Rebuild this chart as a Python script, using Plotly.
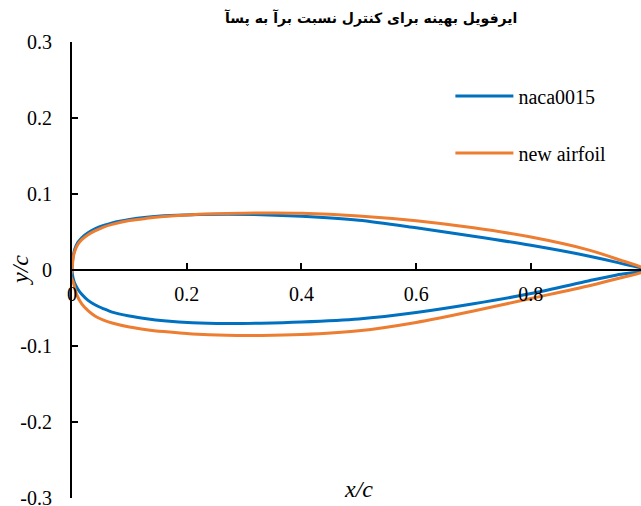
import plotly.graph_objects as go

# Chordwise stations (x/c) shared by the upper surfaces and the NACA lower surface
x_c = [0, 0.002, 0.005, 0.01, 0.017, 0.028, 0.04, 0.055, 0.07, 0.1, 0.13, 0.16,
       0.21, 0.27, 0.33, 0.4, 0.5, 0.6, 0.7, 0.8, 0.9, 0.95, 1.0]

# NACA 0015 surface ordinates (y/c)
naca_upper = [0, 0.018, 0.0275, 0.036, 0.0425, 0.049, 0.054, 0.0585, 0.062, 0.0665, 0.0695, 0.0713,
              0.0728, 0.0732, 0.0728, 0.0708, 0.0655, 0.0555, 0.0445, 0.0325, 0.0185, 0.010, 0]
naca_lower = [0, -0.011, -0.018, -0.025, -0.032, -0.040, -0.0457, -0.051, -0.0555, -0.0605, -0.064, -0.0667,
              -0.0695, -0.0705, -0.0700, -0.0685, -0.0645, -0.056, -0.0445, -0.031, -0.0145, -0.0065, 0]

# Optimised airfoil surface ordinates (y/c)
new_upper = [0, 0.016, 0.025, 0.0335, 0.040, 0.0465, 0.0515, 0.0565, 0.060, 0.065, 0.068, 0.0703,
             0.0728, 0.0742, 0.0750, 0.0747, 0.0712, 0.0648, 0.0555, 0.0433, 0.0265, 0.0145, 0]
new_lower_x = [0, -0.002, 0.003, 0.008, 0.017, 0.028, 0.04, 0.055, 0.07, 0.1, 0.13, 0.16,
               0.21, 0.27, 0.33, 0.4, 0.5, 0.6, 0.7, 0.8, 0.9, 0.95, 1.0]
new_lower = [0, -0.008, -0.018, -0.032, -0.0445, -0.0535, -0.0605, -0.066, -0.0698, -0.075, -0.0785, -0.081,
             -0.0842, -0.0860, -0.0862, -0.0850, -0.0800, -0.069, -0.054, -0.0375, -0.021, -0.0115, 0]

series_names = ["naca0015", "new airfoil"]
series_colors = ["#0070C0", "#ED7D31"]

y_ticks = [-0.3, -0.2, -0.1, 0, 0.1, 0.2, 0.3]
y_tick_text = ["-0.3", "-0.2", "-0.1", "0", "0.1", "0.2", "0.3"]
x_ticks = [0, 0.2, 0.4, 0.6, 0.8]
x_tick_text = ["0", "0.2", "0.4", "0.6", "0.8"]

title_text = "ایرفویل بهینه برای کنترل نسبت برآ به پسآ"

serif = "Liberation Serif"

# closed contours: trailing edge -> leading edge along the upper side, then back along the lower side
naca_x = x_c[::-1] + x_c[1:]
naca_y = naca_upper[::-1] + naca_lower[1:]
new_x = x_c[::-1] + new_lower_x[1:]
new_y = new_upper[::-1] + new_lower[1:]

fig = go.Figure()
fig.add_trace(go.Scatter(x=naca_x, y=naca_y, mode="lines", name=series_names[0],
                         line=dict(color=series_colors[0], width=3, shape="spline", smoothing=0.8),
                         legend="legend"))
fig.add_trace(go.Scatter(x=new_x, y=new_y, mode="lines", name=series_names[1],
                         line=dict(color=series_colors[1], width=3, shape="spline", smoothing=0.8),
                         legend="legend2"))

legend_style = dict(font=dict(family=serif, size=20, color="black"),
                    bgcolor="rgba(0,0,0,0)", xanchor="left", yanchor="middle",
                    itemwidth=58, itemclick=False, itemdoubleclick=False)

# plot area spans 456 px vertically; helper to place annotations by paper fraction
def paper_y(px):
    return (498 - px) / 456

fig.update_layout(
    template="none",
    width=641, height=506,
    margin=dict(l=72, r=0, t=42, b=8),
    paper_bgcolor="white", plot_bgcolor="white",
    font=dict(family=serif, size=20, color="black"),
    showlegend=True,
    legend=dict(x=0.665, y=paper_y(96), **legend_style),
    legend2=dict(x=0.665, y=paper_y(153), **legend_style),
    xaxis=dict(range=[0, 0.992], anchor="free", position=0.5,
               showline=True, linecolor="black", linewidth=2,
               ticks="inside", ticklen=6, tickwidth=2, tickcolor="black",
               tickvals=x_ticks, ticktext=x_tick_text,
               tickfont=dict(family=serif, size=20, color="black"),
               ticklabelstandoff=6,
               showgrid=False, zeroline=False, fixedrange=True),
    yaxis=dict(range=[-0.3, 0.3],
               showline=True, linecolor="black", linewidth=2,
               ticks="inside", ticklen=6, tickwidth=2, tickcolor="black",
               tickvals=y_ticks, ticktext=y_tick_text,
               tickfont=dict(family=serif, size=20, color="black"),
               ticklabelstandoff=14, ticklabeloverflow="allow",
               showgrid=False, zeroline=False, fixedrange=True),
    annotations=[
        dict(text="<b>" + title_text + "</b>", xref="paper", yref="paper", x=0.524, y=paper_y(18),
             xanchor="center", yanchor="middle", showarrow=False,
             font=dict(family="DejaVu Sans", size=14, color="black")),
        dict(text="<i>x/c</i>", xref="paper", yref="paper", x=(358 - 72) / 569, y=paper_y(489),
             xanchor="center", yanchor="middle", showarrow=False,
             font=dict(family=serif, size=24, color="black")),
        dict(text="<i>y/c</i>", xref="paper", yref="paper", x=(20 - 72) / 569, y=paper_y(270),
             xanchor="center", yanchor="middle", showarrow=False, textangle=-90,
             font=dict(family=serif, size=24, color="black")),
    ],
)

fig.write_html("out.html")
